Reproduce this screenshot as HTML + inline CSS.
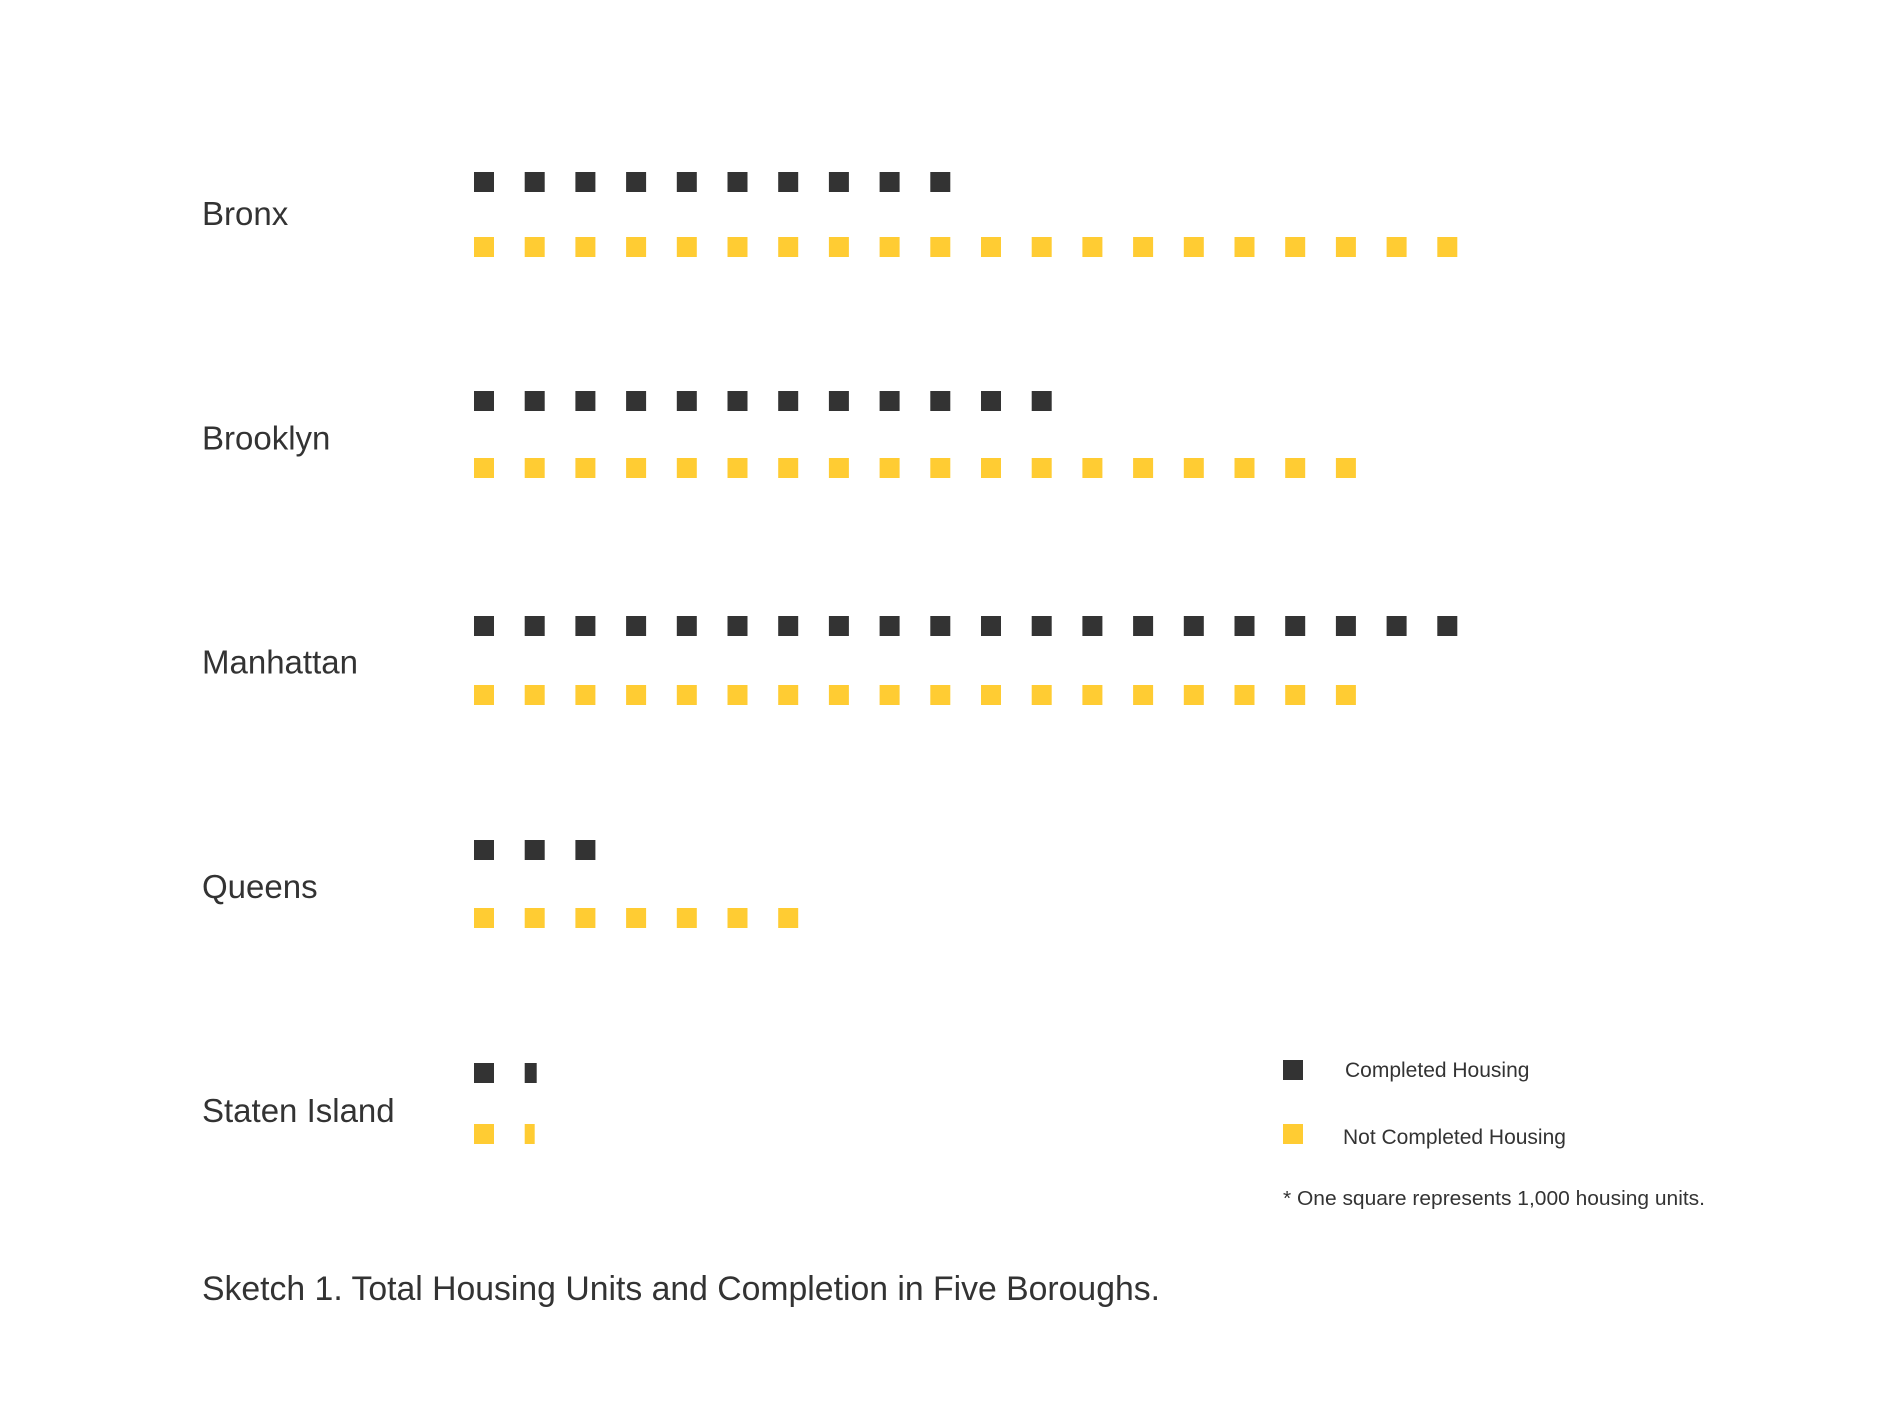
<!DOCTYPE html>
<html><head><meta charset="utf-8"><style>
html,body{margin:0;padding:0;background:#fff;}
svg{display:block;}
text{font-family:"Liberation Sans",sans-serif;fill:#333;}
</style></head><body>
<svg id="chart" width="1890" height="1417" viewBox="0 0 1890 1417">
  <g id="labels"></g>
  <g id="marks"></g>
  <g>
    <rect x="1283" y="1060" width="20" height="20" fill="#333333"/>
    <text x="1345" y="1077" font-size="21">Completed Housing</text>
    <rect x="1283" y="1124" width="20" height="20" fill="#FFCC33"/>
    <text x="1343" y="1144" font-size="21">Not Completed Housing</text>
    <text x="1283" y="1205" font-size="20" textLength="422" lengthAdjust="spacingAndGlyphs">* One square represents 1,000 housing units.</text>
  </g>
  <text x="202" y="1300" font-size="34" textLength="958" lengthAdjust="spacingAndGlyphs">Sketch 1. Total Housing Units and Completion in Five Boroughs.</text>
</svg>
<script>
const boroughs = ["Bronx", "Brooklyn", "Manhattan", "Queens", "Staten Island"];
const completed = [10, 12, 20, 3, 1.6];
const notCompleted = [20, 18, 18, 7, 1.5];

const NS = "http://www.w3.org/2000/svg";
const x0 = 474, step = 50.7, sq = 20;
const darkTops = [172, 391, 616, 840, 1063];
const yellowTops = [237, 458, 685, 908, 1124];
function xPos(i){ return x0 + i*step; }
function labelY(r){ return 225 + r*224.3; }

const labels = document.getElementById('labels');
const marks = document.getElementById('marks');

boroughs.forEach((b, r) => {
  const t = document.createElementNS(NS, 'text');
  t.setAttribute('x', 202);
  t.setAttribute('y', labelY(r));
  t.setAttribute('font-size', 33);
  t.textContent = b;
  
  
  labels.appendChild(t);

  [[completed[r], '#333333', darkTops[r], 'completed'], [notCompleted[r], '#FFCC33', yellowTops[r], 'not-completed']].forEach(([v, color, y, kind]) => {
    const n = Math.ceil(v - 1e-9);
    for (let i = 0; i < n; i++) {
      const frac = Math.min(1, v - i);
      const rc = document.createElementNS(NS, 'rect');
      rc.setAttribute('x', xPos(i));
      rc.setAttribute('y', y);
      rc.setAttribute('width', sq * frac);
      rc.setAttribute('height', sq);
      rc.setAttribute('fill', color);
      
      
      marks.appendChild(rc);
    }
  });
});
</script>
</body></html>
